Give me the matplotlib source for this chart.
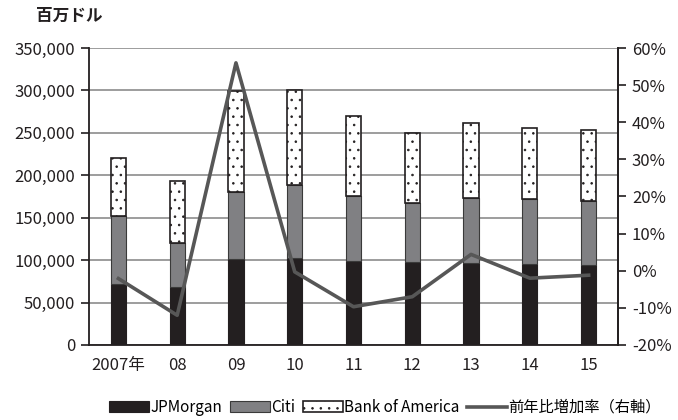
import matplotlib
matplotlib.use("Agg")
import matplotlib.pyplot as plt
import numpy as np
from matplotlib.ticker import FuncFormatter

plt.rcParams['font.family'] = ['Noto Sans CJK JP', 'DejaVu Sans']
plt.rcParams['hatch.linewidth'] = 0.6

years = ["2007年", "08", "09", "10", "11", "12", "13", "14", "15"]
jpmorgan = [72000, 68000, 101000, 103000, 98600, 97800, 97000, 95400, 93900]
citi = [80400, 51800, 79700, 86000, 77000, 69200, 75900, 76300, 75400]
bofa = [68000, 73100, 119000, 111000, 94300, 83200, 89100, 84400, 84100]
growth = [-2.1, -12.0, 56.0, -0.3, -9.7, -7.0, 4.4, -2.0, -1.2]

fig = plt.figure(figsize=(6.78, 4.2), dpi=100)
ax = fig.add_axes([0.1313, 0.1786, 0.9115 - 0.1313, 0.8857 - 0.1786])
x = np.arange(len(years))
w = 0.26

b1 = ax.bar(x, jpmorgan, w, color='#231f20', edgecolor='#231f20', linewidth=0.8, label='JPMorgan', zorder=3)
b2 = ax.bar(x, citi, w, bottom=jpmorgan, color='#808083', edgecolor='#3a3a3a', linewidth=0.8, label='Citi', zorder=3)
bottom2 = [a + b for a, b in zip(jpmorgan, citi)]
b3 = ax.bar(x, bofa, w, bottom=bottom2, color='white', edgecolor='#231f20', linewidth=1.2,
            hatch='..', label='Bank of America', zorder=3)

ax.set_ylim(0, 350000)
ax.set_xlim(-0.5, len(years) - 0.5)
ax.set_yticks(np.arange(0, 350001, 50000))
ax.yaxis.set_major_formatter(FuncFormatter(lambda v, p: f"{int(v):,}"))
ax.grid(axis='y', color='#8c8c8c', linewidth=1.2, zorder=0)
ax.set_xticks(x)
ax.set_xticklabels(years)
ax.tick_params(axis='x', length=0, labelsize=12, pad=9, colors='#231f20')
ax.tick_params(axis='y', length=6, width=1.2, labelsize=12, colors='#231f20', pad=4)
ax.spines['top'].set_visible(False)
for s in ['left', 'bottom', 'right']:
    ax.spines[s].set_color('#231f20')
    ax.spines[s].set_linewidth(1.3)

ax2 = ax.twinx()
ln, = ax2.plot(x, growth, color='#575757', linewidth=2.6, label='前年比増加率(右軸)', zorder=5)
ax2.set_ylim(-20, 60)
ax2.set_yticks(np.arange(-20, 61, 10))
ax2.yaxis.set_major_formatter(FuncFormatter(lambda v, p: f"{int(v)}%"))
ax2.tick_params(axis='y', length=6, width=1.2, labelsize=12, colors='#231f20', pad=4)
for s in ['top', 'left', 'bottom']:
    ax2.spines[s].set_visible(False)
ax2.spines['right'].set_color('#231f20')
ax2.spines['right'].set_linewidth(1.3)

fig.text(0.053, 0.962, "百万ドル", fontsize=12, fontweight='bold', color='#231f20', va='center')

fig.legend([b1, b2, b3, ln], ['JPMorgan', 'Citi', 'Bank of America', '前年比増加率（右軸）'],
           loc='center', bbox_to_anchor=(0.568, 0.03), ncol=4, frameon=False, fontsize=11,
           handlelength=2.6, handleheight=0.7, handletextpad=0.1, columnspacing=0.5)

fig.savefig("out.png", dpi=100)
